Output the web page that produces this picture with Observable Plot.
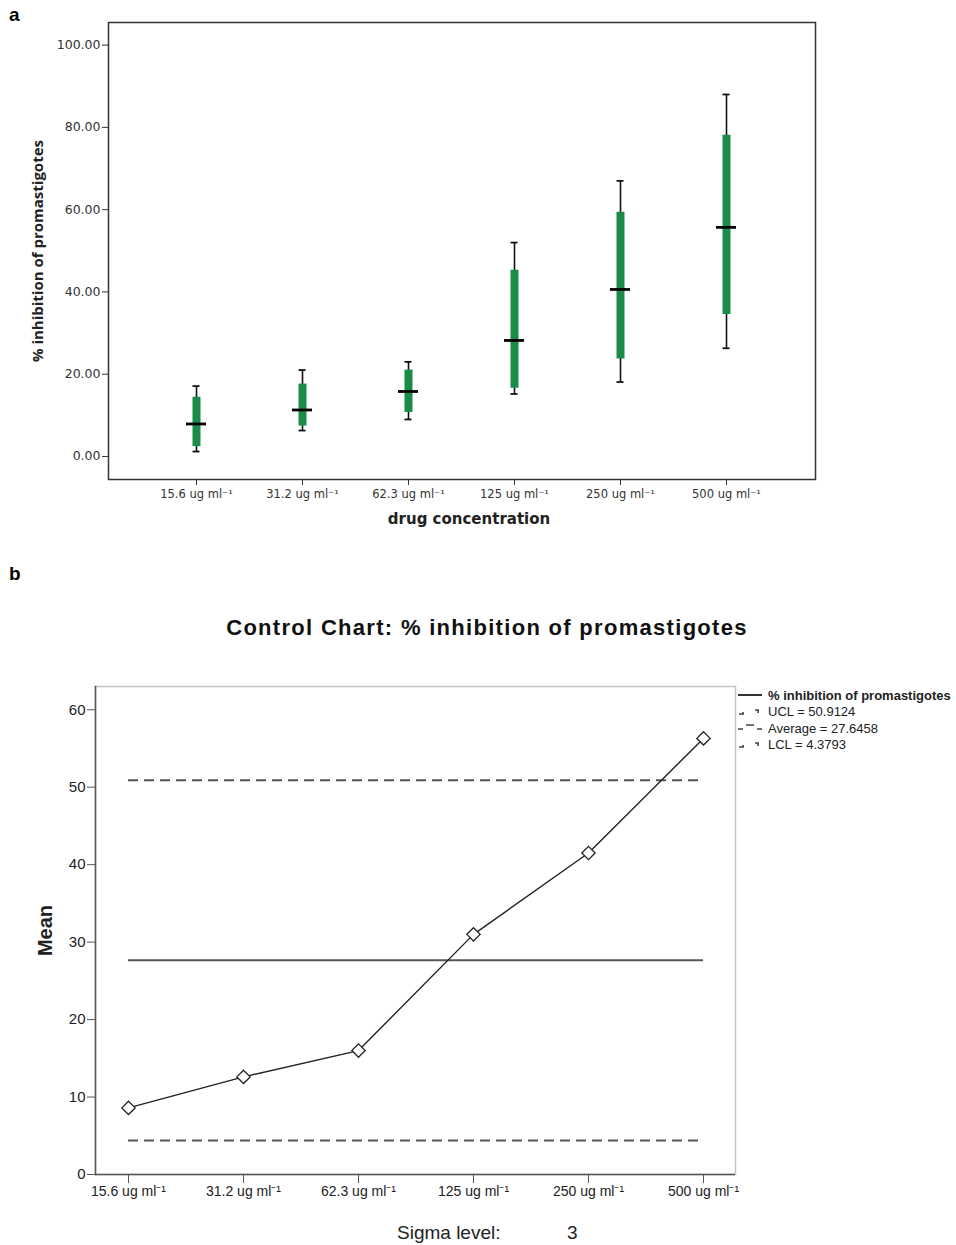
<!DOCTYPE html>
<html>
<head>
<meta charset="utf-8">
<script src="https://cdn.jsdelivr.net/npm/d3@7"></script>
<script src="https://cdn.jsdelivr.net/npm/@observablehq/plot@0.6"></script>
<style>
  body { margin: 0; background: #fff; font-family: "Liberation Sans", Arial, sans-serif; }
  #root { position: relative; width: 956px; height: 1245px; overflow: hidden; }
  .abs { position: absolute; white-space: nowrap; }
  .panel { position: absolute; left: 0; }
  .legend-row { display: flex; align-items: center; height: 16.5px; font-size: 13px; color: #222; }
  .legend-row svg { margin-right: 6px; }
</style>
</head>
<body>
<div id="root">
  <div class="abs" style="left:9px; top:4px; font: bold 19px 'Liberation Sans', Arial, sans-serif;">a</div>
  <div id="pa" class="panel" style="top:0px;"></div>
  <div class="abs" style="left:9px; top:563px; font: bold 19px 'Liberation Sans', Arial, sans-serif;">b</div>
  <div class="abs" id="titleb" style="left:0; width:974px; text-align:center; top:615px; font: bold 22px 'Liberation Sans', Arial, sans-serif; letter-spacing:1.3px; color:#111;">Control Chart: % inhibition of promastigotes</div>
  <div id="pb" class="panel" style="top:640px;"></div>
  <div class="abs" id="legend" style="left:738px; top:687px;"></div>
  <div class="abs" style="left:397px; top:1222px; font: 19px 'Liberation Sans', Arial, sans-serif; color:#222;">Sigma level:</div>
  <div class="abs" style="left:567px; top:1222px; font: 19px 'Liberation Sans', Arial, sans-serif; color:#222;">3</div>
</div>
<script>
// ---------- Data ----------
const categories = ["15.6", "31.2", "62.3", "125", "250", "500"];
const tickLabels = ["15.6 ug ml\u207B\u00B9", "31.2 ug ml\u207B\u00B9", "62.3 ug ml\u207B\u00B9", "125 ug ml\u207B\u00B9", "250 ug ml\u207B\u00B9", "500 ug ml\u207B\u00B9"];
// panel a: box plot statistics
const whiskerLow  = [1.2, 6.3, 9.0, 15.2, 18.1, 26.3];
const boxLow      = [2.4, 7.4, 10.7, 16.6, 23.7, 34.5];
const medians     = [7.9, 11.3, 15.8, 28.2, 40.6, 55.7];
const boxHigh     = [14.4, 17.6, 21.0, 45.3, 59.4, 78.1];
const whiskerHigh = [17.1, 21.0, 23.0, 52.0, 67.0, 88.0];
const yTicksA = [0, 20, 40, 60, 80, 100];
// panel b: control chart
const means = [8.6, 12.6, 16.0, 31.0, 41.5, 56.3];
const UCL = 50.9124, AVG = 27.6458, LCL = 4.3793;
const yTicksB = [0, 10, 20, 30, 40, 50, 60];
const legendItems = ["% inhibition of promastigotes", "UCL = 50.9124", "Average = 27.6458", "LCL = 4.3793"];

const labelOf = new Map(categories.map((c, i) => [c, tickLabels[i]]));
const boxes = categories.map((c, i) => ({
  cat: c, wl: whiskerLow[i], bl: boxLow[i], med: medians[i], bh: boxHigh[i], wh: whiskerHigh[i]
}));
const green = "#1a8c48";

// ---------- Panel a ----------
const pa = Plot.plot({
  width: 956, height: 540,
  marginLeft: 108, marginRight: 141, marginTop: 22, marginBottom: 61,
  style: { fontFamily: "'DejaVu Sans', sans-serif", fontSize: "12px", color: "#333", background: "transparent" },
  x: { type: "band", domain: categories, paddingInner: 0.811, paddingOuter: 0.736, label: null },
  y: { domain: [-5.6, 105.5], label: null },
  marks: [
    Plot.frame({ stroke: "#333", strokeWidth: 1.5 }),
    Plot.axisY({ ticks: yTicksA, tickFormat: d => d.toFixed(2), tickSize: 6, tickPadding: 2, label: null, stroke: "#333", fontSize: 12.5 }),
    Plot.axisX({ tickFormat: d => labelOf.get(d), tickSize: 6, tickPadding: 4, label: null, fontSize: 11.5 }),
    Plot.ruleX(boxes, { x: "cat", y1: "wl", y2: "wh", stroke: "#111", strokeWidth: 1.6 }),
    Plot.tickY(boxes, { x: "cat", y: "wl", stroke: "#111", strokeWidth: 1.8, insetLeft: 6.5, insetRight: 6.5 }),
    Plot.tickY(boxes, { x: "cat", y: "wh", stroke: "#111", strokeWidth: 1.8, insetLeft: 6.5, insetRight: 6.5 }),
    Plot.ruleX(boxes, { x: "cat", y1: "bl", y2: "bh", stroke: green, strokeWidth: 8 }),
    Plot.tickY(boxes, { x: "cat", y: "med", stroke: "#000", strokeWidth: 2.8 }),
    Plot.text(["drug concentration"], { frameAnchor: "bottom", dy: 44, fontSize: 15, fontWeight: "bold", fill: "#222", fontFamily: "'DejaVu Sans', sans-serif", dx: 7 }),
    Plot.text(["% inhibition of promastigotes"], { frameAnchor: "left", textAnchor: "middle", rotate: -90, dx: -70, dy: 0, fontSize: 15, fontWeight: "bold", fill: "#222", fontFamily: "'Open Sans', sans-serif" })
  ]
});
document.getElementById("pa").appendChild(pa);

// ---------- Panel b ----------
const series = categories.map((c, i) => ({ cat: c, v: means[i] }));
const limits = [
  { v: UCL, a: categories[0], b: categories[categories.length - 1], dash: "10,6" },
  { v: AVG, a: categories[0], b: categories[categories.length - 1], dash: null },
  { v: LCL, a: categories[0], b: categories[categories.length - 1], dash: "10,6" }
];
const pb = Plot.plot({
  width: 956, height: 605,
  marginLeft: 95, marginRight: 221, marginTop: 46, marginBottom: 71,
  style: { fontFamily: "'Liberation Sans', Arial, sans-serif", fontSize: "14px", color: "#222", background: "transparent" },
  x: { type: "point", domain: categories, padding: 0.27, label: null },
  y: { domain: [0, 63], label: null },
  marks: [
    Plot.frame({ stroke: "#c4c4c4", strokeWidth: 1.5 }),
    Plot.frame({ anchor: "left", stroke: "#555", strokeWidth: 1.5 }),
    Plot.ruleY([0], { stroke: "#555", strokeWidth: 1.5 }),
    Plot.axisY({ ticks: yTicksB, tickSize: 8, tickPadding: 2, label: null, fontSize: 15, stroke: "#555" }),
    Plot.axisX({ tickFormat: d => labelOf.get(d), tickSize: 9, tickPadding: 3, label: null, fontSize: 14, stroke: "#555", textAnchor: "middle" }),
    Plot.ruleY(limits.filter(d => d.dash), { y: "v", x1: "a", x2: "b", stroke: "#555", strokeWidth: 2, strokeDasharray: "10,6" }),
    Plot.ruleY(limits.filter(d => !d.dash), { y: "v", x1: "a", x2: "b", stroke: "#555", strokeWidth: 2 }),
    Plot.line(series, { x: "cat", y: "v", stroke: "#222", strokeWidth: 1.4 }),
    Plot.dot(series, { x: "cat", y: "v", symbol: "diamond2", r: 6, stroke: "#222", fill: "#fff", strokeWidth: 1.3 }),
    Plot.text(["Mean"], { frameAnchor: "left", textAnchor: "middle", rotate: -90, dx: -50, fontSize: 20, fontWeight: "bold", fill: "#222" })
  ]
});
document.getElementById("pb").appendChild(pb);

// ---------- Legend for panel b ----------
const swatches = [
  '<svg width="24" height="8"><line x1="0" y1="4" x2="24" y2="4" stroke="#333" stroke-width="2"/></svg>',
  '<svg width="24" height="8"><path d="M1 6 H6 M5 4 V6 M17 2 H21 M20 2 V5" stroke="#444" stroke-width="1.6" fill="none"/></svg>',
  '<svg width="24" height="8"><path d="M0 5 H5 M8 1 H16 M19 5 H24" stroke="#444" stroke-width="1.4" fill="none"/></svg>',
  '<svg width="24" height="8"><path d="M1 6 H6 M5 4 V6 M17 2 H21 M20 2 V5" stroke="#444" stroke-width="1.6" fill="none"/></svg>'
];
const leg = document.getElementById("legend");
legendItems.forEach((t, i) => {
  const row = document.createElement("div");
  row.className = "legend-row";
  row.innerHTML = swatches[i] + `<span style="${i === 0 ? 'font-weight:bold;' : ''}">${t}</span>`;
  leg.appendChild(row);
});
</script>
</body>
</html>
